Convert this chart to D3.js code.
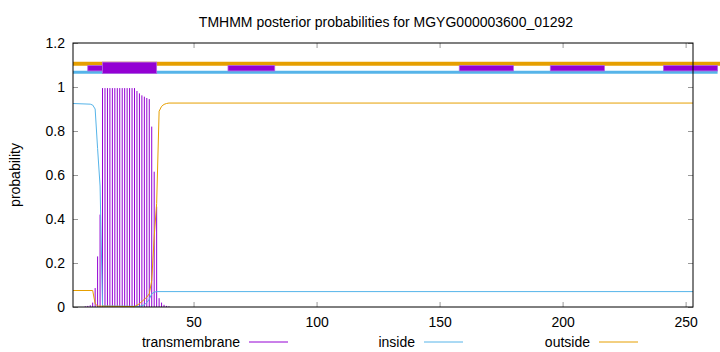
<!DOCTYPE html>
<html>
<head>
<meta charset="utf-8">
<script src="https://cdn.jsdelivr.net/npm/d3@7"></script>
<style>
  body { margin: 0; background: #fff; }
  svg { display: block; font-family: "Liberation Sans", Arial, sans-serif; }
</style>
</head>
<body>
<svg id="chart" width="720" height="352"></svg>
<script>
// residues 1..253, transmembrane posterior (non-zero part)
const tmResidues = [6, 7, 8, 9, 10, 11, 12, 13, 14, 15, 16, 17, 18, 19, 20, 21, 22, 23, 24, 25, 26,
  27, 28, 29, 30, 31, 32, 33, 34, 35, 36, 37, 38, 39, 40];
const tmValues = [0.003, 0.005, 0.008, 0.02, 0.086, 0.23, 0.42, 0.995, 0.995, 0.995, 0.995, 0.995,
  0.995, 0.995, 0.995, 0.995, 0.995, 0.995, 0.995, 0.995, 0.995,
  0.982, 0.971, 0.962, 0.956, 0.95, 0.945, 0.82, 0.615, 0.456, 0.04, 0.02, 0.01, 0.005, 0.003];

// inside / outside line vertices [residue, probability]
const insidePts = [[1, 0.925], [8, 0.922], [9, 0.918], [10, 0.9], [11, 0.72], [12, 0.55], [13, 0.005],
  [28, 0.003], [29, 0.006], [30, 0.01], [31, 0.02], [32, 0.035], [33, 0.06], [34, 0.067], [35, 0.07],
  [253, 0.07]];
const outsidePts = [[1, 0.075], [9, 0.075], [10, 0.015], [11, 0.004], [26, 0.002], [27, 0.008],
  [28, 0.015], [29, 0.025], [30, 0.035], [31, 0.045], [32, 0.06], [33, 0.12], [34, 0.32], [35, 0.47],
  [36, 0.89], [37, 0.912], [38, 0.921], [39, 0.925], [40, 0.927], [253, 0.927]];

// topology strip above the plot
const outsideBar = [1, 264];
const insideBar = [1, 263];
const tmBoxes = [[13, 35]];
const weakBoxes = [[7, 13], [64, 83], [158, 180], [195, 217], [241, 263]];

const xTicks = [50, 100, 150, 200, 250];
const yTicks = [0, 0.2, 0.4, 0.6, 0.8, 1, 1.2];

const legendItems = ["transmembrane", "inside", "outside"];

const PURPLE = "#9400d3";
const BLUE = "#56b4e9";
const ORANGE = "#e69f00";

const svg = d3.select("#chart");

const x = d3.scaleLinear().domain([1, 253]).range([73, 693]);
const y = d3.scaleLinear().domain([0, 1.2]).range([307, 43]);

// title + y label
svg.append("text")
  .attr("x", 386).attr("y", 27)
  .attr("text-anchor", "middle")
  .attr("font-size", 14)
  .text("TMHMM posterior probabilities for MGYG000003600_01292");

svg.append("text")
  .attr("transform", "translate(20,175) rotate(-90)")
  .attr("text-anchor", "middle")
  .attr("font-size", 14)
  .text("probability");

// axes, ticks pointing inward like gnuplot
const fmt = d => String(+d.toFixed(1));

const gx = svg.append("g")
  .attr("transform", "translate(0,307)")
  .call(d3.axisBottom(x).tickValues(xTicks).tickSize(-5).tickPadding(10));
const gy = svg.append("g")
  .attr("transform", "translate(73,0)")
  .call(d3.axisLeft(y).tickValues(yTicks).tickFormat(fmt).tickSize(-5).tickPadding(8));
const gt = svg.append("g")
  .attr("transform", "translate(0,43)")
  .call(d3.axisTop(x).tickValues(xTicks).tickSize(-5).tickFormat(""));
const gr = svg.append("g")
  .attr("transform", "translate(693,0)")
  .call(d3.axisRight(y).tickValues(yTicks).tickSize(-5).tickFormat(""));

[gx, gy, gt, gr].forEach(g => {
  g.select(".domain").remove();
  g.selectAll(".tick line").attr("stroke", "#999");
  g.selectAll(".tick text")
    .attr("font-size", 14)
    .attr("font-family", "Liberation Sans, Arial, sans-serif")
    .attr("fill", "#000");
});

// topology strip
svg.append("line")
  .attr("x1", x(outsideBar[0])).attr("x2", x(outsideBar[1]))
  .attr("y1", y(1.1055)).attr("y2", y(1.1055))
  .attr("stroke", ORANGE).attr("stroke-width", 4);
svg.append("line")
  .attr("x1", x(insideBar[0])).attr("x2", x(insideBar[1]))
  .attr("y1", y(1.0668)).attr("y2", y(1.0668))
  .attr("stroke", BLUE).attr("stroke-width", 3);

svg.append("g").selectAll("rect")
  .data(weakBoxes)
  .enter()
  .append("rect")
  .attr("x", d => x(d[0]))
  .attr("width", d => x(d[1]) - x(d[0]))
  .attr("y", y(1.098))
  .attr("height", y(1.073) - y(1.098))
  .attr("fill", PURPLE)
  .attr("stroke", "#b266e0")
  .attr("stroke-width", 0.8);

svg.append("g").selectAll("rect")
  .data(tmBoxes)
  .enter()
  .append("rect")
  .attr("x", d => x(d[0]))
  .attr("width", d => x(d[1]) - x(d[0]))
  .attr("y", y(1.113))
  .attr("height", y(1.061) - y(1.113))
  .attr("fill", PURPLE)
  .attr("stroke", "#b266e0")
  .attr("stroke-width", 0.8);

// transmembrane impulses
svg.append("g")
  .attr("stroke", PURPLE)
  .attr("stroke-width", 1)
  .selectAll("line")
  .data(tmResidues.map((r, i) => [r, tmValues[i]]))
  .enter()
  .append("line")
  .attr("x1", d => x(d[0])).attr("x2", d => x(d[0]))
  .attr("y1", y(0)).attr("y2", d => y(d[1]));

const line = d3.line().x(d => x(d[0])).y(d => y(d[1]));

svg.append("path")
  .attr("d", line(insidePts))
  .attr("fill", "none").attr("stroke", BLUE).attr("stroke-width", 1);
svg.append("path")
  .attr("d", line(outsidePts))
  .attr("fill", "none").attr("stroke", ORANGE).attr("stroke-width", 1);

// frame
svg.append("rect")
  .attr("x", 73).attr("y", 43)
  .attr("width", 620).attr("height", 264)
  .attr("fill", "none").attr("stroke", "#000").attr("stroke-width", 1);

// legend
const legendX = [240, 415, 590];
const legendColor = [PURPLE, BLUE, ORANGE];
const lg = svg.append("g").selectAll("g")
  .data(legendItems)
  .enter()
  .append("g");
lg.append("text")
  .attr("x", (d, i) => legendX[i])
  .attr("y", 347)
  .attr("text-anchor", "end")
  .attr("font-size", 14)
  .text(d => d);
lg.append("line")
  .attr("x1", (d, i) => legendX[i] + 9)
  .attr("x2", (d, i) => legendX[i] + 48)
  .attr("y1", 342).attr("y2", 342)
  .attr("stroke", (d, i) => legendColor[i])
  .attr("stroke-width", 1);
</script>
</body>
</html>
